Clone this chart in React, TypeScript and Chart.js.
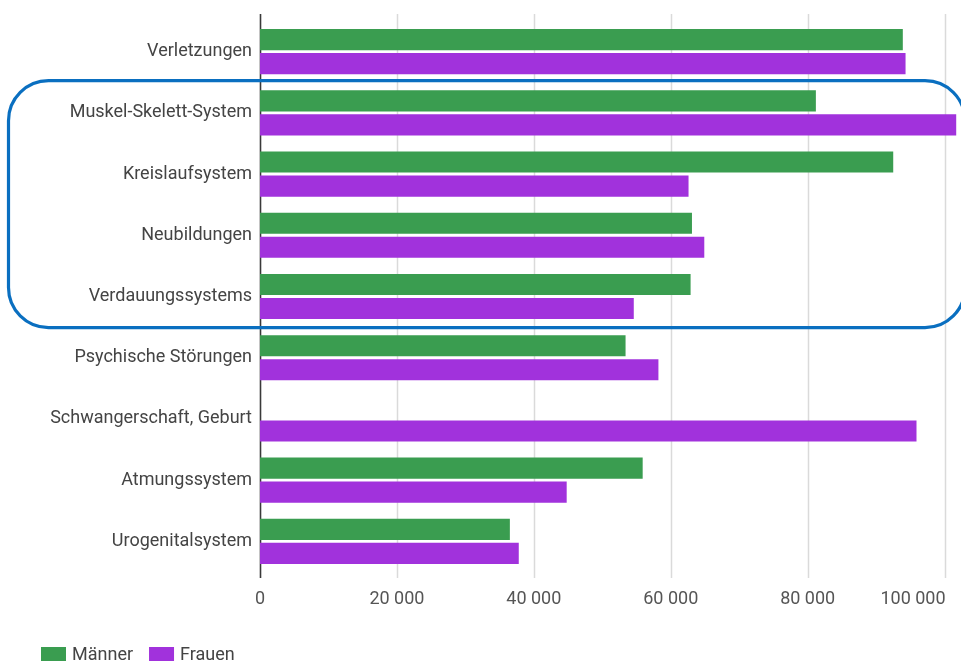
import React, { useEffect, useRef } from "react";
import { Chart, registerables } from "chart.js";

Chart.register(...registerables);

// Diagnosegruppen (ICD-Kapitel), sortiert wie im Bericht
const categories: string[] = [
  "Verletzungen",
  "Muskel-Skelett-System",
  "Kreislaufsystem",
  "Neubildungen",
  "Verdauungssystems",
  "Psychische Störungen",
  "Schwangerschaft, Geburt",
  "Atmungssystem",
  "Urogenitalsystem",
];

const maenner: (number | null)[] = [93900, 81200, 92500, 63100, 62900, 53400, null, 55900, 36500];
const frauen: number[] = [94300, 101700, 62600, 64900, 54600, 58200, 95900, 44800, 37800];

const xTicks: number[] = [0, 20000, 40000, 60000, 80000, 100000];

// first and last category inside the highlighted block
const highlightFrom = 1;
const highlightTo = 4;

const GREEN = "#3a9d50";
const PURPLE = "#a132dc";
const BLUE = "#0a6fc0";
const FONT = "Roboto, 'Noto Sans', sans-serif";
const FONT_SIZE = 18;

const fmt = (v: number) => {
  const s = String(Math.round(v));
  return s.replace(/\B(?=(\d{3})+(?!\d))/g, " ");
};

// vertical grid lines that reach a little beyond the plot area, dark line at zero
const gridPlugin = {
  id: "gridLines",
  beforeDatasetsDraw(chart: any) {
    const { ctx, chartArea, scales } = chart;
    const x = scales.x;
    ctx.save();
    xTicks.forEach((t) => {
      const px = Math.round(x.getPixelForValue(t)) + 0.5;
      ctx.beginPath();
      ctx.strokeStyle = t === 0 ? "#3a3a3a" : "#dadada";
      ctx.lineWidth = t === 0 ? 1.6 : 1.5;
      ctx.moveTo(px, chartArea.top - 7);
      ctx.lineTo(px, chartArea.bottom + 6);
      ctx.stroke();
    });
    ctx.restore();
  },
};

// x tick labels: centred under their grid line, the last one kept inside the canvas
const xLabelPlugin = {
  id: "xLabels",
  afterDraw(chart: any) {
    const { ctx, chartArea, scales } = chart;
    const x = scales.x;
    ctx.save();
    ctx.font = `${FONT_SIZE}px ${FONT}`;
    ctx.fillStyle = "#555";
    ctx.textBaseline = "middle";
    xTicks.forEach((t) => {
      const px = x.getPixelForValue(t);
      const text = fmt(t);
      const w = ctx.measureText(text).width;
      if (px + w / 2 > chart.width) {
        ctx.textAlign = "right";
        ctx.fillText(text, px + 1, chartArea.bottom + 27);
      } else {
        ctx.textAlign = "center";
        ctx.fillText(text, px, chartArea.bottom + 27);
      }
    });
    ctx.restore();
  },
};

// rounded frame around the highlighted group of categories
const framePlugin = {
  id: "frame",
  afterDraw(chart: any) {
    const { ctx, scales } = chart;
    const y = scales.y;
    const top = (y.getPixelForValue(highlightFrom - 1) + y.getPixelForValue(highlightFrom)) / 2 - 1.5;
    const bottom = (y.getPixelForValue(highlightTo) + y.getPixelForValue(highlightTo + 1)) / 2 + 0.5;
    const left = 8.5;
    const right = chart.width + 4;
    const r = 40;
    ctx.save();
    ctx.strokeStyle = BLUE;
    ctx.lineWidth = 3.2;
    ctx.beginPath();
    ctx.moveTo(left + r, top);
    ctx.lineTo(right - r, top);
    ctx.arcTo(right, top, right, top + r, r);
    ctx.lineTo(right, bottom - r);
    ctx.arcTo(right, bottom, right - r, bottom, r);
    ctx.lineTo(left + r, bottom);
    ctx.arcTo(left, bottom, left, bottom - r, r);
    ctx.lineTo(left, top + r);
    ctx.arcTo(left, top, left + r, top, r);
    ctx.closePath();
    ctx.stroke();
    ctx.restore();
  },
};

// legend in the lower left corner
const legendPlugin = {
  id: "bottomLegend",
  afterDraw(chart: any) {
    const { ctx } = chart;
    const cy = 654;
    let x = 41;
    ctx.save();
    ctx.font = `${FONT_SIZE}px ${FONT}`;
    ctx.textBaseline = "middle";
    chart.data.datasets.forEach((ds: any) => {
      ctx.fillStyle = ds.backgroundColor;
      ctx.fillRect(x, cy - 7, 25, 14);
      ctx.fillStyle = "#444";
      ctx.fillText(ds.label, x + 31, cy + 1);
      x += 31 + ctx.measureText(ds.label).width + 16;
    });
    ctx.restore();
  },
};

export default function App() {
  const ref = useRef<HTMLCanvasElement | null>(null);

  useEffect(() => {
    if (!ref.current) return;
    const chart = new Chart(ref.current, {
      type: "bar",
      data: {
        labels: categories,
        datasets: [
          { label: "Männer", data: maenner, backgroundColor: GREEN },
          { label: "Frauen", data: frauen, backgroundColor: PURPLE },
        ],
      },
      options: {
        indexAxis: "y",
        responsive: false,
        animation: false,
        devicePixelRatio: 1,
        layout: { padding: { top: 21, right: 0, bottom: 40, left: 0 } },
        datasets: {
          bar: { categoryPercentage: 0.785, barPercentage: 0.88 },
        },
        plugins: {
          legend: { display: false },
          tooltip: { enabled: false },
        },
        scales: {
          x: {
            min: 0,
            max: 102400,
            grid: { display: false, drawTicks: false },
            border: { display: false },
            afterBuildTicks(scale: any) {
              scale.ticks = xTicks.map((v) => ({ value: v }));
            },
            afterFit(scale: any) {
              scale.paddingLeft = 0;
              scale.paddingRight = 0;
              scale.height = 50;
            },
            ticks: { display: false },
          },
          y: {
            grid: { display: false, drawTicks: false },
            border: { display: false },
            afterFit(scale: any) {
              scale.width = 260;
            },
            ticks: {
              padding: 8,
              color: "#444",
              font: { family: FONT, size: FONT_SIZE },
            },
          },
        },
      },
      plugins: [gridPlugin, xLabelPlugin, framePlugin, legendPlugin],
    });
    return () => chart.destroy();
  }, []);

  return (
    <div style={{ position: "absolute", left: 0, top: 0, width: 961, height: 662, background: "#fff" }}>
      <canvas ref={ref} width={961} height={662} />
    </div>
  );
}
